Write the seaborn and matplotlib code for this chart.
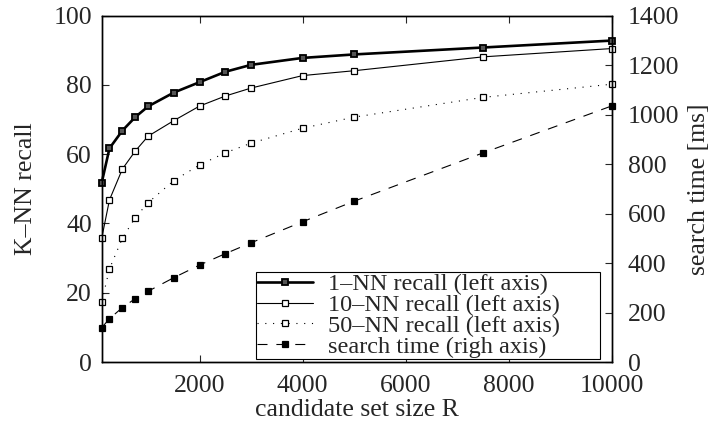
import pandas as pd
import matplotlib
matplotlib.use("Agg")
import matplotlib.pyplot as plt
import seaborn as sns

cand_size = [100, 250, 500, 750, 1000, 1500, 2000, 2500, 3000, 4000, 5000, 7500, 10000]
recall_1nn = [51.8, 61.7, 66.8, 70.7, 73.8, 77.8, 80.8, 83.8, 85.8, 87.8, 88.8, 90.8, 92.8]
recall_10nn = [35.8, 46.8, 55.7, 60.9, 65.2, 69.7, 73.9, 76.8, 79.1, 82.7, 84.1, 88.1, 90.5]
recall_50nn = [17.4, 26.9, 35.7, 41.7, 46.0, 52.4, 56.9, 60.4, 63.2, 67.5, 70.7, 76.4, 80.2]
search_ms = [139, 175, 220, 256, 286, 341, 392, 438, 482, 567, 650, 845, 1035]

x_ticks = [2000, 4000, 6000, 8000, 10000]
left_ticks = [0, 20, 40, 60, 80, 100]
right_ticks = [0, 200, 400, 600, 800, 1000, 1200, 1400]

df = pd.DataFrame({
    "R": cand_size,
    "r1": recall_1nn,
    "r10": recall_10nn,
    "r50": recall_50nn,
    "time": search_ms,
})

sns.set_style("ticks")
plt.rcParams["font.family"] = ["Liberation Serif", "DejaVu Serif"]
plt.rcParams["font.size"] = 18.5
plt.rcParams["axes.linewidth"] = 1.0

fig = plt.figure(figsize=(7.14, 4.23), dpi=100)
ax = fig.add_axes([0.1425, 0.1442, 0.7142, 0.8188])
ax2 = ax.twinx()

sns.lineplot(data=df, x="R", y="r1", ax=ax, color="black", lw=1.9,
             marker="s", ms=5, mfc="#555555", mec="black", mew=1.3,
             clip_on=False, label="1\u2013NN recall (left axis)", legend=False)
sns.lineplot(data=df, x="R", y="r10", ax=ax, color="black", lw=0.8,
             marker="s", ms=4.5, mfc="white", mec="black", mew=0.9,
             clip_on=False, label="10\u2013NN recall (left axis)", legend=False)
sns.lineplot(data=df, x="R", y="r50", ax=ax, color="black", lw=0.8,
             linestyle=(0, (1, 6)),
             marker="s", ms=4.5, mfc="white", mec="black", mew=0.9,
             clip_on=False, label="50\u2013NN recall (left axis)", legend=False)
sns.lineplot(data=df, x="R", y="time", ax=ax2, color="black", lw=0.8,
             linestyle=(0, (9, 8)),
             marker="s", ms=4.5, mfc="black", mec="black", mew=0.9,
             clip_on=False, label="search time (righ axis)", legend=False)

ax.set_xlim(100, 10000)
ax.set_ylim(0, 100)
ax2.set_ylim(0, 1400)
ax.set_xticks(x_ticks)
ax.set_yticks(left_ticks)
ax2.set_yticks(right_ticks)

ax.set_xlabel("candidate set size R", labelpad=2)
ax.set_ylabel("K\u2013NN recall", labelpad=11.5)
ax2.set_ylabel("search time [ms]", labelpad=6.5)

ax.tick_params(axis="x", direction="in", top=True, length=5, width=0.8, pad=9)
ax.tick_params(axis="y", direction="in", length=5, width=0.8, pad=7)
ax2.tick_params(axis="y", direction="in", length=5, width=0.8, pad=11.5)
ax2.set_xticks(x_ticks)
for a in (ax, ax2):
    for s in a.spines.values():
        s.set_visible(True)
        s.set_color("black")

h1, l1 = ax.get_legend_handles_labels()
h2, l2 = ax2.get_legend_handles_labels()
leg = ax2.legend(h1 + h2, l1 + l2, loc="lower left",
                 bbox_to_anchor=(0.3025, 0.009, 0.6745, 0.25), mode="expand",
                 borderaxespad=0,
                 fancybox=False, framealpha=1, edgecolor="black",
                 handlelength=2.3, handletextpad=0.6, labelspacing=-0.05,
                 borderpad=0.05, fontsize=17.5)
leg.get_frame().set_linewidth(0.8)

fig.savefig("out.png", dpi=100)
